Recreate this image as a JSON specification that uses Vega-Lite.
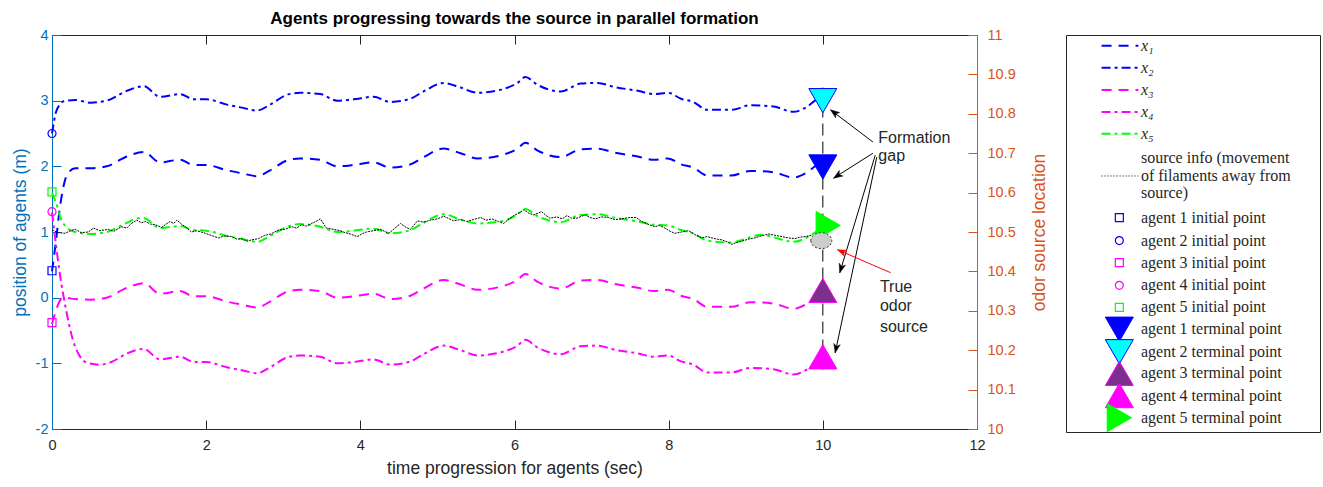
{
"$schema": "https://vega.github.io/schema/vega-lite/v6.json",
"background": "white",
"padding": {"left": 10, "top": 9, "right": 3, "bottom": 5},
"config": {
  "view": {"stroke": "#262626", "strokeWidth": 1},
  "axis": {"labelFont": "Liberation Sans", "titleFont": "Liberation Sans", "labelFontSize": 14.5, "titleFontSize": 17.5, "titleFontWeight": "normal", "grid": false, "labelFlush": false, "labelOverlap": false, "domainColor": "#262626", "tickColor": "#262626", "labelColor": "#262626", "titleColor": "#262626", "tickSize": -9, "domainWidth": 1, "tickWidth": 1, "labelExpr": "replace(datum.label, '−', '-')"}
},
"datasets": {
  "agents": [
    {"s":"1","t":0,"y":0.4},{"s":"1","t":0.05,"y":0.85},{"s":"1","t":0.1,"y":1.35},{"s":"1","t":0.15,"y":1.7},{"s":"1","t":0.2,"y":1.88},{"s":"1","t":0.3,"y":1.97},{"s":"1","t":0.5,"y":1.97},{"s":"1","t":0.71,"y":2.0},{"s":"1","t":0.97,"y":2.15},{"s":"1","t":1.19,"y":2.22},{"s":"1","t":1.4,"y":2.06},{"s":"1","t":1.66,"y":2.1},{"s":"1","t":1.84,"y":2.02},{"s":"1","t":2.0,"y":2.02},{"s":"1","t":2.27,"y":1.94},{"s":"1","t":2.48,"y":1.89},{"s":"1","t":2.66,"y":1.85},{"s":"1","t":2.83,"y":1.94},{"s":"1","t":3.05,"y":2.09},{"s":"1","t":3.22,"y":2.12},{"s":"1","t":3.48,"y":2.1},{"s":"1","t":3.7,"y":2.0},{"s":"1","t":3.91,"y":2.02},{"s":"1","t":4.17,"y":2.06},{"s":"1","t":4.39,"y":1.98},{"s":"1","t":4.65,"y":2.03},{"s":"1","t":4.82,"y":2.14},{"s":"1","t":5.08,"y":2.27},{"s":"1","t":5.3,"y":2.2},{"s":"1","t":5.52,"y":2.12},{"s":"1","t":5.86,"y":2.18},{"s":"1","t":6.04,"y":2.27},{"s":"1","t":6.14,"y":2.36},{"s":"1","t":6.3,"y":2.24},{"s":"1","t":6.6,"y":2.14},{"s":"1","t":6.86,"y":2.26},{"s":"1","t":7.08,"y":2.27},{"s":"1","t":7.29,"y":2.21},{"s":"1","t":7.6,"y":2.15},{"s":"1","t":7.81,"y":2.1},{"s":"1","t":7.99,"y":2.12},{"s":"1","t":8.16,"y":2.03},{"s":"1","t":8.32,"y":1.98},{"s":"1","t":8.5,"y":1.86},{"s":"1","t":8.81,"y":1.86},{"s":"1","t":9.06,"y":1.93},{"s":"1","t":9.36,"y":1.91},{"s":"1","t":9.62,"y":1.83},{"s":"1","t":9.8,"y":1.91},{"s":"1","t":9.94,"y":2.02},{"s":"1","t":10.0,"y":2.0},
    {"s":"2","t":0,"y":2.5},{"s":"2","t":0.05,"y":2.82},{"s":"2","t":0.1,"y":2.94},{"s":"2","t":0.15,"y":2.99},{"s":"2","t":0.3,"y":3.01},{"s":"2","t":0.5,"y":2.97},{"s":"2","t":0.71,"y":3.0},{"s":"2","t":0.97,"y":3.15},{"s":"2","t":1.19,"y":3.22},{"s":"2","t":1.4,"y":3.06},{"s":"2","t":1.66,"y":3.1},{"s":"2","t":1.84,"y":3.02},{"s":"2","t":2.0,"y":3.02},{"s":"2","t":2.27,"y":2.94},{"s":"2","t":2.48,"y":2.89},{"s":"2","t":2.66,"y":2.85},{"s":"2","t":2.83,"y":2.94},{"s":"2","t":3.05,"y":3.09},{"s":"2","t":3.22,"y":3.12},{"s":"2","t":3.48,"y":3.1},{"s":"2","t":3.7,"y":3.0},{"s":"2","t":3.91,"y":3.02},{"s":"2","t":4.17,"y":3.06},{"s":"2","t":4.39,"y":2.98},{"s":"2","t":4.65,"y":3.03},{"s":"2","t":4.82,"y":3.14},{"s":"2","t":5.08,"y":3.27},{"s":"2","t":5.3,"y":3.2},{"s":"2","t":5.52,"y":3.12},{"s":"2","t":5.86,"y":3.18},{"s":"2","t":6.04,"y":3.27},{"s":"2","t":6.14,"y":3.36},{"s":"2","t":6.3,"y":3.24},{"s":"2","t":6.6,"y":3.14},{"s":"2","t":6.86,"y":3.26},{"s":"2","t":7.08,"y":3.27},{"s":"2","t":7.29,"y":3.21},{"s":"2","t":7.6,"y":3.15},{"s":"2","t":7.81,"y":3.1},{"s":"2","t":7.99,"y":3.12},{"s":"2","t":8.16,"y":3.03},{"s":"2","t":8.32,"y":2.98},{"s":"2","t":8.5,"y":2.86},{"s":"2","t":8.81,"y":2.86},{"s":"2","t":9.06,"y":2.93},{"s":"2","t":9.36,"y":2.91},{"s":"2","t":9.62,"y":2.83},{"s":"2","t":9.8,"y":2.91},{"s":"2","t":9.94,"y":3.02},{"s":"2","t":10.0,"y":3.0},
    {"s":"3","t":0,"y":-0.4},{"s":"3","t":0.05,"y":-0.2},{"s":"3","t":0.1,"y":-0.05},{"s":"3","t":0.15,"y":0.0},{"s":"3","t":0.3,"y":-0.02},{"s":"3","t":0.5,"y":-0.03},{"s":"3","t":0.71,"y":0.0},{"s":"3","t":0.97,"y":0.15},{"s":"3","t":1.19,"y":0.22},{"s":"3","t":1.4,"y":0.06},{"s":"3","t":1.66,"y":0.1},{"s":"3","t":1.84,"y":0.02},{"s":"3","t":2.0,"y":0.02},{"s":"3","t":2.27,"y":-0.06},{"s":"3","t":2.48,"y":-0.11},{"s":"3","t":2.66,"y":-0.15},{"s":"3","t":2.83,"y":-0.06},{"s":"3","t":3.05,"y":0.09},{"s":"3","t":3.22,"y":0.12},{"s":"3","t":3.48,"y":0.1},{"s":"3","t":3.7,"y":0.0},{"s":"3","t":3.91,"y":0.02},{"s":"3","t":4.17,"y":0.06},{"s":"3","t":4.39,"y":-0.02},{"s":"3","t":4.65,"y":0.03},{"s":"3","t":4.82,"y":0.14},{"s":"3","t":5.08,"y":0.27},{"s":"3","t":5.3,"y":0.2},{"s":"3","t":5.52,"y":0.12},{"s":"3","t":5.86,"y":0.18},{"s":"3","t":6.04,"y":0.27},{"s":"3","t":6.14,"y":0.36},{"s":"3","t":6.3,"y":0.24},{"s":"3","t":6.6,"y":0.14},{"s":"3","t":6.86,"y":0.26},{"s":"3","t":7.08,"y":0.27},{"s":"3","t":7.29,"y":0.21},{"s":"3","t":7.6,"y":0.15},{"s":"3","t":7.81,"y":0.1},{"s":"3","t":7.99,"y":0.12},{"s":"3","t":8.16,"y":0.03},{"s":"3","t":8.32,"y":-0.02},{"s":"3","t":8.5,"y":-0.14},{"s":"3","t":8.81,"y":-0.14},{"s":"3","t":9.06,"y":-0.07},{"s":"3","t":9.36,"y":-0.09},{"s":"3","t":9.62,"y":-0.17},{"s":"3","t":9.8,"y":-0.09},{"s":"3","t":9.94,"y":0.02},{"s":"3","t":10.0,"y":0.0},
    {"s":"4","t":0,"y":1.3},{"s":"4","t":0.05,"y":0.82},{"s":"4","t":0.1,"y":0.38},{"s":"4","t":0.19,"y":-0.23},{"s":"4","t":0.27,"y":-0.64},{"s":"4","t":0.36,"y":-0.89},{"s":"4","t":0.45,"y":-0.99},{"s":"4","t":0.62,"y":-1.02},{"s":"4","t":0.75,"y":-0.99},{"s":"4","t":0.97,"y":-0.85},{"s":"4","t":1.19,"y":-0.78},{"s":"4","t":1.4,"y":-0.94},{"s":"4","t":1.66,"y":-0.9},{"s":"4","t":1.84,"y":-0.98},{"s":"4","t":2.0,"y":-0.98},{"s":"4","t":2.27,"y":-1.06},{"s":"4","t":2.48,"y":-1.11},{"s":"4","t":2.66,"y":-1.15},{"s":"4","t":2.83,"y":-1.06},{"s":"4","t":3.05,"y":-0.91},{"s":"4","t":3.22,"y":-0.88},{"s":"4","t":3.48,"y":-0.9},{"s":"4","t":3.7,"y":-1.0},{"s":"4","t":3.91,"y":-0.98},{"s":"4","t":4.17,"y":-0.94},{"s":"4","t":4.39,"y":-1.02},{"s":"4","t":4.65,"y":-0.97},{"s":"4","t":4.82,"y":-0.86},{"s":"4","t":5.08,"y":-0.73},{"s":"4","t":5.3,"y":-0.8},{"s":"4","t":5.52,"y":-0.88},{"s":"4","t":5.86,"y":-0.82},{"s":"4","t":6.04,"y":-0.73},{"s":"4","t":6.14,"y":-0.64},{"s":"4","t":6.3,"y":-0.76},{"s":"4","t":6.6,"y":-0.86},{"s":"4","t":6.86,"y":-0.74},{"s":"4","t":7.08,"y":-0.73},{"s":"4","t":7.29,"y":-0.79},{"s":"4","t":7.6,"y":-0.85},{"s":"4","t":7.81,"y":-0.9},{"s":"4","t":7.99,"y":-0.88},{"s":"4","t":8.16,"y":-0.97},{"s":"4","t":8.32,"y":-1.02},{"s":"4","t":8.5,"y":-1.14},{"s":"4","t":8.81,"y":-1.14},{"s":"4","t":9.06,"y":-1.07},{"s":"4","t":9.36,"y":-1.09},{"s":"4","t":9.62,"y":-1.17},{"s":"4","t":9.8,"y":-1.09},{"s":"4","t":9.94,"y":-0.98},{"s":"4","t":10.0,"y":-1.0},
    {"s":"5","t":0,"y":1.6},{"s":"5","t":0.05,"y":1.45},{"s":"5","t":0.12,"y":1.19},{"s":"5","t":0.18,"y":1.08},{"s":"5","t":0.3,"y":1.0},{"s":"5","t":0.5,"y":0.97},{"s":"5","t":0.71,"y":1.0},{"s":"5","t":0.97,"y":1.14},{"s":"5","t":1.12,"y":1.21},{"s":"5","t":1.19,"y":1.21},{"s":"5","t":1.4,"y":1.06},{"s":"5","t":1.66,"y":1.09},{"s":"5","t":1.84,"y":1.03},{"s":"5","t":2.0,"y":1.02},{"s":"5","t":2.27,"y":0.94},{"s":"5","t":2.48,"y":0.89},{"s":"5","t":2.66,"y":0.85},{"s":"5","t":2.83,"y":0.94},{"s":"5","t":3.05,"y":1.08},{"s":"5","t":3.22,"y":1.12},{"s":"5","t":3.48,"y":1.08},{"s":"5","t":3.7,"y":1.0},{"s":"5","t":3.91,"y":1.02},{"s":"5","t":4.17,"y":1.05},{"s":"5","t":4.39,"y":0.98},{"s":"5","t":4.65,"y":1.03},{"s":"5","t":4.82,"y":1.14},{"s":"5","t":5.08,"y":1.27},{"s":"5","t":5.3,"y":1.19},{"s":"5","t":5.52,"y":1.13},{"s":"5","t":5.86,"y":1.17},{"s":"5","t":6.04,"y":1.27},{"s":"5","t":6.14,"y":1.35},{"s":"5","t":6.3,"y":1.24},{"s":"5","t":6.6,"y":1.15},{"s":"5","t":6.86,"y":1.26},{"s":"5","t":7.08,"y":1.27},{"s":"5","t":7.29,"y":1.22},{"s":"5","t":7.6,"y":1.16},{"s":"5","t":7.81,"y":1.11},{"s":"5","t":7.99,"y":1.1},{"s":"5","t":8.16,"y":1.03},{"s":"5","t":8.32,"y":0.98},{"s":"5","t":8.5,"y":0.87},{"s":"5","t":8.81,"y":0.84},{"s":"5","t":9.06,"y":0.92},{"s":"5","t":9.2,"y":0.96},{"s":"5","t":9.36,"y":0.92},{"s":"5","t":9.62,"y":0.85},{"s":"5","t":9.8,"y":0.92},{"s":"5","t":9.94,"y":1.02},{"s":"5","t":10.0,"y":1.05}
  ],
  "source": [
    {"t":0.0,"y":1.03},{"t":0.08,"y":0.99},{"t":0.17,"y":0.98},{"t":0.24,"y":1.02},{"t":0.30,"y":1.04},{"t":0.38,"y":0.99},{"t":0.47,"y":1.0},{"t":0.54,"y":1.06},{"t":0.62,"y":1.02},{"t":0.73,"y":1.04},{"t":0.80,"y":1.01},{"t":0.90,"y":1.08},{"t":0.97,"y":1.06},{"t":1.03,"y":1.13},{"t":1.10,"y":1.18},{"t":1.16,"y":1.14},{"t":1.21,"y":1.16},{"t":1.28,"y":1.12},{"t":1.34,"y":1.11},{"t":1.42,"y":1.07},{"t":1.48,"y":1.12},{"t":1.53,"y":1.16},{"t":1.58,"y":1.13},{"t":1.62,"y":1.18},{"t":1.68,"y":1.12},{"t":1.73,"y":1.08},{"t":1.81,"y":1.0},{"t":1.88,"y":1.02},{"t":1.99,"y":0.98},{"t":2.06,"y":0.95},{"t":2.16,"y":0.91},{"t":2.24,"y":0.94},{"t":2.33,"y":0.93},{"t":2.40,"y":0.89},{"t":2.46,"y":0.9},{"t":2.53,"y":0.86},{"t":2.59,"y":0.88},{"t":2.68,"y":0.9},{"t":2.76,"y":0.95},{"t":2.84,"y":0.97},{"t":2.94,"y":1.03},{"t":3.02,"y":1.04},{"t":3.11,"y":1.08},{"t":3.17,"y":1.06},{"t":3.24,"y":1.11},{"t":3.30,"y":1.09},{"t":3.37,"y":1.13},{"t":3.44,"y":1.17},{"t":3.48,"y":1.2},{"t":3.56,"y":1.06},{"t":3.65,"y":1.04},{"t":3.74,"y":1.02},{"t":3.80,"y":0.99},{"t":3.87,"y":0.97},{"t":3.96,"y":0.93},{"t":4.02,"y":0.97},{"t":4.08,"y":1.0},{"t":4.17,"y":1.02},{"t":4.26,"y":1.04},{"t":4.37,"y":0.98},{"t":4.45,"y":1.06},{"t":4.52,"y":1.13},{"t":4.58,"y":1.08},{"t":4.65,"y":1.04},{"t":4.74,"y":1.17},{"t":4.82,"y":1.15},{"t":4.91,"y":1.18},{"t":5.0,"y":1.2},{"t":5.08,"y":1.24},{"t":5.14,"y":1.21},{"t":5.21,"y":1.17},{"t":5.30,"y":1.19},{"t":5.38,"y":1.16},{"t":5.47,"y":1.19},{"t":5.56,"y":1.22},{"t":5.63,"y":1.18},{"t":5.71,"y":1.2},{"t":5.79,"y":1.16},{"t":5.86,"y":1.13},{"t":5.93,"y":1.2},{"t":5.99,"y":1.25},{"t":6.06,"y":1.29},{"t":6.12,"y":1.34},{"t":6.18,"y":1.29},{"t":6.25,"y":1.26},{"t":6.35,"y":1.31},{"t":6.40,"y":1.26},{"t":6.46,"y":1.21},{"t":6.55,"y":1.23},{"t":6.62,"y":1.2},{"t":6.68,"y":1.25},{"t":6.74,"y":1.21},{"t":6.81,"y":1.21},{"t":6.87,"y":1.24},{"t":6.92,"y":1.26},{"t":6.98,"y":1.22},{"t":7.05,"y":1.2},{"t":7.13,"y":1.23},{"t":7.22,"y":1.22},{"t":7.30,"y":1.19},{"t":7.39,"y":1.2},{"t":7.48,"y":1.22},{"t":7.58,"y":1.22},{"t":7.65,"y":1.16},{"t":7.73,"y":1.12},{"t":7.82,"y":1.08},{"t":7.88,"y":1.1},{"t":7.95,"y":1.06},{"t":8.02,"y":1.01},{"t":8.08,"y":0.98},{"t":8.17,"y":1.0},{"t":8.26,"y":1.02},{"t":8.34,"y":0.96},{"t":8.43,"y":0.91},{"t":8.50,"y":0.93},{"t":8.56,"y":0.91},{"t":8.63,"y":0.89},{"t":8.69,"y":0.88},{"t":8.76,"y":0.85},{"t":8.82,"y":0.81},{"t":8.88,"y":0.84},{"t":8.95,"y":0.86},{"t":9.03,"y":0.89},{"t":9.12,"y":0.91},{"t":9.20,"y":0.94},{"t":9.30,"y":0.97},{"t":9.38,"y":0.95},{"t":9.47,"y":0.93},{"t":9.55,"y":0.91},{"t":9.64,"y":0.9},{"t":9.70,"y":0.92},{"t":9.77,"y":0.93},{"t":9.85,"y":0.95}
  ],
  "vline": [{"t":10,"y":3.2,"yb":-1.1}],
  "init": [
    {"s":"i1","t":0,"y":0.41},{"s":"i2","t":0,"y":2.5},{"s":"i3","t":0,"y":-0.38},{"s":"i4","t":0,"y":1.31},{"s":"i5","t":0,"y":1.61}
  ],
  "term": [
    {"s":"t1","t":10,"y":1.99},{"s":"t2","t":10,"y":3.0},{"s":"t5","t":10.07,"y":1.1},{"s":"t3","t":10,"y":0.11},{"s":"t4","t":10,"y":-0.9}
  ],
  "arrows": [
    {"id":"a1","t":10.10,"y":2.86,"tx":10.65,"ty":2.37},
    {"id":"a2","t":10.14,"y":1.82,"tx":10.65,"ty":2.20},
    {"id":"a3","t":10.22,"y":0.38,"tx":10.68,"ty":2.17},
    {"id":"a4","t":10.16,"y":-0.84,"tx":10.70,"ty":2.14},
    {"id":"r","t":10.19,"y":0.73,"tx":10.88,"ty":0.38}
  ],
  "notes": [
    {"txt":"Formation","t":10.72,"y":2.35},{"txt":"gap","t":10.72,"y":2.086},
    {"txt":"True","t":10.74,"y":0.09},{"txt":"odor","t":10.74,"y":-0.21},{"txt":"source","t":10.74,"y":-0.52}
  ],
  "odor": [{"t":9.98,"v":10.478}],
  "legLines": [
    {"s":"1","label":"x₁","slot":0.62},{"s":"2","label":"x₂","slot":1.62},{"s":"3","label":"x₃","slot":2.63},{"s":"4","label":"x₄","slot":3.63},{"s":"5","label":"x₅","slot":4.61}
  ],
  "legSrc": [{"label":"source info (movement\nof filaments away from\nsource)","slot":5.73,"lslot":6.53}],
  "legItems": [
    {"s":"i1","label":"agent 1 initial point","slot":8.42},
    {"s":"i2","label":"agent 2 initial point","slot":9.46},
    {"s":"i3","label":"agent 3 initial point","slot":10.46},
    {"s":"i4","label":"agent 4 initial point","slot":11.49},
    {"s":"i5","label":"agent 5 initial point","slot":12.49},
    {"s":"t1","label":"agent 1 terminal point","slot":13.48},
    {"s":"t2","label":"agent 2 terminal point","slot":14.5},
    {"s":"t3","label":"agent 3 terminal point","slot":15.48},
    {"s":"t4","label":"agent 4 terminal point","slot":16.49},
    {"s":"t5","label":"agent 5 terminal point","slot":17.49}
  ]
},
"resolve": {"scale": {"x": "independent", "y": "independent"}},
"spacing": 16,
"hconcat": [
  {
    "width": 925,
    "height": 394,
    "title": {"text": "Agents progressing towards the source in parallel formation", "font": "Liberation Sans", "fontSize": 17, "fontWeight": "bold", "color": "#000000", "anchor": "middle", "offset": -1},
    "resolve": {"scale": {"y": "independent"}, "axis": {"x": "independent", "y": "independent"}},
    "layer": [
      {
        "encoding": {
          "x": {"field": "t", "type": "quantitative", "scale": {"domain": [0, 12], "nice": false, "zero": false}, "axis": {"orient": "bottom", "values": [0,2,4,6,8,10,12], "title": "time progression for agents (sec)", "labelPadding": 18, "titlePadding": 8}},
          "y": {"field": "y", "type": "quantitative", "scale": {"domain": [-2, 4], "nice": false, "zero": false}, "axis": {"orient": "left", "values": [-2,-1,0,1,2,3,4], "title": "position of agents (m)", "domainColor": "#0072BD", "tickColor": "#0072BD", "labelColor": "#0072BD", "titleColor": "#0072BD", "labelPadding": 13, "titlePadding": 6}}
        },
        "layer": [
          {"data": {"name": "agents"}, "mark": {"type": "line", "strokeWidth": 2, "interpolate": "monotone"},
           "encoding": {"detail": {"field": "s"},
             "stroke": {"field": "s", "type": "nominal", "scale": {"domain": ["1","2","3","4","5","i1","i2","i3","i4","i5","t1","t2","t3","t4","t5"], "range": ["#0000ff","#0000ff","#ff00ff","#ff00ff","#00ff00","#0000ff","#0000ff","#ff00ff","#ff00ff","#00ff00","#0000ff","#0000ff","#ff00ff","#ff00ff","#00ff00"]}, "legend": null},
             "strokeDash": {"field": "s", "type": "nominal", "scale": {"domain": ["1","2","3","4","5"], "range": [[10,7],[9,4,3,4],[10,7],[9,4,3,4],[9,4,3,4]]}, "legend": null}}},
          {"data": {"name": "source"}, "mark": {"type": "line", "stroke": "#000000", "strokeWidth": 1, "strokeDash": [2,1]}, "encoding": {}},
          {"data": {"name": "vline"}, "mark": {"type": "rule", "stroke": "#000000", "strokeWidth": 1, "strokeDash": [12,6]}, "encoding": {"y2": {"field": "yb"}}},
          {"data": {"name": "init"}, "mark": {"type": "point", "filled": false, "size": 64, "strokeWidth": 1.2, "opacity": 1},
           "encoding": {
             "shape": {"field": "s", "type": "nominal", "scale": {"domain": ["i1","i2","i3","i4","i5","t1","t2","t3","t4","t5"], "range": ["square","circle","square","circle","square","triangle-down","triangle-down","triangle-up","triangle-up","triangle-right"]}, "legend": null},
             "stroke": {"field": "s", "type": "nominal", "legend": null}}},
          {"data": {"name": "term"}, "mark": {"type": "point", "filled": true, "size": 784, "strokeWidth": 1, "opacity": 1},
           "encoding": {
             "shape": {"field": "s", "type": "nominal", "legend": null},
             "fill": {"field": "s", "type": "nominal", "scale": {"domain": ["t1","t2","t3","t4","t5"], "range": ["#0000ff","#00ffff","#7e2f8e","#ff00ff","#00ff00"]}, "legend": null},
             "stroke": {"field": "s", "type": "nominal", "legend": null}}},
          {"data": {"name": "arrows"}, "transform": [{"filter": "datum.id != 'r'"}], "mark": {"type": "rule", "stroke": "#000000", "strokeWidth": 1}, "encoding": {"x2": {"field": "tx"}, "y2": {"field": "ty"}}},
          {"data": {"name": "arrows"}, "transform": [{"filter": "datum.id == 'r'"}], "mark": {"type": "rule", "stroke": "#ff0000", "strokeWidth": 1}, "encoding": {"x2": {"field": "tx"}, "y2": {"field": "ty"}}},
          {"data": {"name": "arrows"}, "transform": [{"filter": "datum.id == 'a1'"}], "mark": {"type": "point", "shape": "M0,0L0.55,1.5L0,1.1L-0.55,1.5Z", "size": 140, "filled": true, "fill": "#000000", "stroke": "#000000", "strokeWidth": 0.5, "opacity": 1, "angle": 307}, "encoding": {}},
          {"data": {"name": "arrows"}, "transform": [{"filter": "datum.id == 'a2'"}], "mark": {"type": "point", "shape": "M0,0L0.55,1.5L0,1.1L-0.55,1.5Z", "size": 140, "filled": true, "fill": "#000000", "stroke": "#000000", "strokeWidth": 0.5, "opacity": 1, "angle": 237}, "encoding": {}},
          {"data": {"name": "arrows"}, "transform": [{"filter": "datum.id == 'a3'"}], "mark": {"type": "point", "shape": "M0,0L0.55,1.5L0,1.1L-0.55,1.5Z", "size": 140, "filled": true, "fill": "#000000", "stroke": "#000000", "strokeWidth": 0.5, "opacity": 1, "angle": 196.5}, "encoding": {}},
          {"data": {"name": "arrows"}, "transform": [{"filter": "datum.id == 'a4'"}], "mark": {"type": "point", "shape": "M0,0L0.55,1.5L0,1.1L-0.55,1.5Z", "size": 140, "filled": true, "fill": "#000000", "stroke": "#000000", "strokeWidth": 0.5, "opacity": 1, "angle": 192}, "encoding": {}},
          {"data": {"name": "arrows"}, "transform": [{"filter": "datum.id == 'r'"}], "mark": {"type": "point", "shape": "M0,0L0.55,1.5L0,1.1L-0.55,1.5Z", "size": 140, "filled": true, "fill": "#ff0000", "stroke": "#ff0000", "strokeWidth": 0.5, "opacity": 1, "angle": 293.5}, "encoding": {}},
          {"data": {"name": "notes"}, "mark": {"type": "text", "align": "left", "baseline": "alphabetic", "font": "Liberation Sans", "fontSize": 16, "color": "#262626"}, "encoding": {"text": {"field": "txt"}}}
        ]
      },
      {
        "data": {"name": "odor"},
        "mark": {"type": "point", "shape": "M-1,0A1,0.76 0 1,0 1,0A1,0.76 0 1,0 -1,0Z", "size": 441, "filled": true, "fill": "#cccccc", "stroke": "#333333", "strokeWidth": 1, "strokeDash": [2,2], "opacity": 1},
        "encoding": {
          "x": {"field": "t", "type": "quantitative", "scale": {"domain": [0, 12], "nice": false, "zero": false}, "axis": {"orient": "top", "labels": false, "title": null, "domain": false, "values": [0,2,4,6,8,10,12]}},
          "y": {"field": "v", "type": "quantitative", "scale": {"domain": [10, 11], "nice": false, "zero": false}, "axis": {"orient": "right", "values": [10,10.1,10.2,10.3,10.4,10.5,10.6,10.7,10.8,10.9,11], "format": "~g", "title": "odor source location", "titleAngle": 270, "domainColor": "#D95319", "tickColor": "#D95319", "labelColor": "#D95319", "titleColor": "#D95319", "labelPadding": 19, "titlePadding": 33}}
        }
      }
    ]
  },
  {
    "width": 254,
    "height": 397,
    "encoding": {
      "y": {"field": "slot", "type": "quantitative", "scale": {"domain": [0.136, 18.14], "reverse": true, "nice": false, "zero": false}, "axis": null}
    },
    "layer": [
      {"data": {"name": "legLines"}, "mark": {"type": "rule", "strokeWidth": 2},
       "encoding": {"x": {"datum": 0.14, "type": "quantitative", "scale": {"domain": [0, 1], "nice": false}, "axis": null}, "x2": {"datum": 0.285},
         "stroke": {"field": "s", "type": "nominal", "scale": {"domain": ["1","2","3","4","5","i1","i2","i3","i4","i5","t1","t2","t3","t4","t5"], "range": ["#0000ff","#0000ff","#ff00ff","#ff00ff","#00ff00","#0000ff","#0000ff","#ff00ff","#ff00ff","#00ff00","#0000ff","#0000ff","#ff00ff","#ff00ff","#00ff00"]}, "legend": null},
         "strokeDash": {"field": "s", "type": "nominal", "scale": {"domain": ["1","2","3","4","5"], "range": [[10,7],[9,4,3,4],[10,7],[9,4,3,4],[9,4,3,4]]}, "legend": null}}},
      {"data": {"name": "legSrc"}, "mark": {"type": "rule", "strokeWidth": 1, "stroke": "#000000", "strokeDash": [1,2]},
       "encoding": {"x": {"datum": 0.14, "type": "quantitative", "scale": {"domain": [0, 1]}, "axis": null}, "x2": {"datum": 0.285}, "y": {"field": "lslot", "type": "quantitative"}}},
      {"data": {"name": "legItems"}, "transform": [{"filter": {"field": "s", "oneOf": ["i1","i2","i3","i4","i5"]}}], "mark": {"type": "point", "filled": false, "size": 64, "strokeWidth": 1.2, "opacity": 1},
       "encoding": {"x": {"datum": 0.21, "type": "quantitative", "scale": {"domain": [0, 1]}, "axis": null},
         "shape": {"field": "s", "type": "nominal", "scale": {"domain": ["i1","i2","i3","i4","i5","t1","t2","t3","t4","t5"], "range": ["square","circle","square","circle","square","triangle-down","triangle-down","triangle-up","triangle-up","triangle-right"]}, "legend": null},
         "stroke": {"field": "s", "type": "nominal", "legend": null}}},
      {"data": {"name": "legItems"}, "transform": [{"filter": {"field": "s", "oneOf": ["t1","t2","t3","t4","t5"]}}], "mark": {"type": "point", "filled": true, "size": 784, "strokeWidth": 1, "opacity": 1},
       "encoding": {"x": {"datum": 0.21, "type": "quantitative", "scale": {"domain": [0, 1]}, "axis": null},
         "shape": {"field": "s", "type": "nominal", "legend": null},
         "fill": {"field": "s", "type": "nominal", "scale": {"domain": ["t1","t2","t3","t4","t5"], "range": ["#0000ff","#00ffff","#7e2f8e","#ff00ff","#00ff00"]}, "legend": null},
         "stroke": {"field": "s", "type": "nominal", "legend": null}}},
      {"data": {"name": "legItems"}, "mark": {"type": "text", "align": "left", "baseline": "middle", "font": "Liberation Serif", "fontSize": 16, "color": "#262626"},
       "encoding": {"x": {"datum": 0.295, "type": "quantitative", "scale": {"domain": [0, 1]}, "axis": null}, "text": {"field": "label"}}},
      {"data": {"name": "legLines"}, "mark": {"type": "text", "align": "left", "baseline": "middle", "font": "Liberation Serif", "fontSize": 16, "fontStyle": "italic", "color": "#262626"},
       "encoding": {"x": {"datum": 0.295, "type": "quantitative", "scale": {"domain": [0, 1]}, "axis": null}, "text": {"field": "label"}}},
      {"data": {"name": "legSrc"}, "mark": {"type": "text", "align": "left", "baseline": "middle", "font": "Liberation Serif", "fontSize": 16, "lineBreak": "\n", "lineHeight": 17.3, "color": "#262626"},
       "encoding": {"x": {"datum": 0.295, "type": "quantitative", "scale": {"domain": [0, 1]}, "axis": null}, "text": {"field": "label"}}}
    ]
  }
]
}
